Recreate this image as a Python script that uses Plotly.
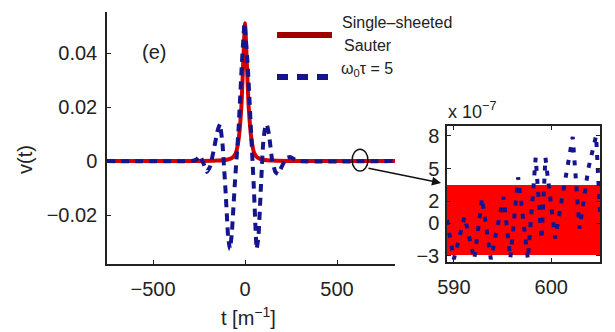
import plotly.graph_objects as go

# ---- data ----
t_red = [-750, -300, -150, -100, -70, -50, -35, -20, -10, 0, 10, 20, 35, 50, 70, 100, 150, 300, 815]
v_red = [0, 0, 0.0002, 0.0005, 0.0012, 0.003, 0.008, 0.02, 0.036, 0.051, 0.036, 0.02, 0.008, 0.003, 0.0012, 0.0005, 0.0002, 0, 0]

t_blue = [-750, -290, -265, -245, -225, -207, -190, -170, -150, -136, -122, -105, -92, -82, -72, -55, -35, -18, -3,
          15, 32, 48, 63, 73, 86, 98, 108, 118, 130, 148, 165, 180, 200, 225, 245, 265, 290, 815]
v_blue = [0, 0, 0.0005, 0.002, -0.001, -0.004, -0.002, 0.004, 0.011, 0.0137, 0.006, -0.012, -0.028, -0.0326, -0.027, -0.008, 0.012, 0.035, 0.051,
          0.035, 0.012, -0.010, -0.0326, -0.028, -0.010, 0.006, 0.012, 0.0137, 0.010, 0.0, -0.004, -0.0048, -0.002, 0.0012, 0.0015, 0.0008, 0, 0]

# inset (units of 1e-7)
inset_red_x = [589.3, 605.0, 605.0, 589.3, 589.3]
inset_red_y = [-2.9, -2.9, 3.5, 3.5, -2.9]
inset_blue_x = [589.3, 590.0, 591.1, 592.1, 592.9, 593.8, 595.1, 595.8, 596.6, 597.6, 598.4, 599.0, 599.4, 600.4,
                601.3, 602.2, 602.9, 603.8, 604.6, 605.0]
inset_blue_y = [0.3, -3.3, 0.6, -3.3, 2.3, -3.3, 2.4, -3.2, 4.2, -3.3, 6.0, -1.5, 6.0, -1.4,
                3.3, 7.9, -0.5, 5.0, 8.0, 1.0]

main_yticks = [-0.02, 0, 0.02, 0.04]
main_yticktext = ["\u22120.02", "0", "0.02", "0.04"]
main_xticks = [-500, 0, 500]
main_xticktext = ["\u2212500", "0", "500"]
inset_yticks = [-3, 0, 2, 5, 8]
inset_yticktext = ["\u22123", "0", "2", "5", "8"]
inset_xticks = [590, 600]

RED = "#d40000"
BLUE = "#14148c"
FONT = "Liberation Sans, Arial, sans-serif"

fig = go.Figure()
fig.add_trace(go.Scatter(x=t_red, y=v_red, mode="lines", line=dict(color=RED, width=4, shape="spline", smoothing=0.5),
                         xaxis="x", yaxis="y", showlegend=False))
fig.add_trace(go.Scatter(x=t_blue, y=v_blue, mode="lines", line=dict(color=BLUE, width=4, dash="8px,6px", shape="spline", smoothing=0.3),
                         xaxis="x", yaxis="y", showlegend=False))
fig.add_trace(go.Scatter(x=inset_red_x, y=inset_red_y, mode="lines", fill="toself", fillcolor="#ff0000",
                         line=dict(color="#ff0000", width=0), xaxis="x2", yaxis="y2", showlegend=False))
fig.add_trace(go.Scatter(x=inset_blue_x, y=inset_blue_y, mode="lines", line=dict(color=BLUE, width=4, dash="5px,8px"),
                         xaxis="x2", yaxis="y2", showlegend=False))

W, H = 615, 332
def px(x): return x / W
def py(y): return 1 - y / H

common = dict(showgrid=False, zeroline=False, showline=True, linecolor="#222", linewidth=1.5,
              ticks="inside", ticklen=4, tickcolor="#222", automargin=False)

fig.update_layout(
    width=W, height=H, margin=dict(l=0, r=0, t=0, b=0, autoexpand=False),
    paper_bgcolor="white", plot_bgcolor="rgba(0,0,0,0)",
    font=dict(family=FONT, size=20, color="#222"),
    xaxis=dict(domain=[px(107), px(395)], range=[-750, 815], tickvals=main_xticks, ticktext=main_xticktext,
               anchor="y", ticklabelstandoff=6, **common),
    yaxis=dict(domain=[py(264), py(12)], range=[-0.0381, 0.0552], tickvals=main_yticks, ticktext=main_yticktext,
               anchor="x", ticklabelstandoff=4, **common),
    xaxis2=dict(domain=[px(447), px(600)], range=[589.3, 605.0], tickvals=inset_xticks,
                mirror="ticks", anchor="y2", ticklabelstandoff=6, **common),
    yaxis2=dict(domain=[py(262), py(126)], range=[-3.55, 8.9], tickvals=inset_yticks, ticktext=inset_yticktext,
                mirror="ticks", anchor="x2", ticklabelstandoff=2, **common),
)

# legend drawn manually
fig.add_shape(type="line", xref="paper", yref="paper", x0=px(277), x1=px(332), y0=py(35), y1=py(35),
              line=dict(color="#a00000", width=6))
fig.add_shape(type="line", xref="paper", yref="paper", x0=px(277), x1=px(332), y0=py(77), y1=py(77),
              line=dict(color=BLUE, width=6, dash="11px,9px"))
fig.add_annotation(xref="paper", yref="paper", x=px(340), y=py(23), text="Single\u2013sheeted", showarrow=False,
                   xanchor="left", yanchor="middle", font=dict(size=16))
fig.add_annotation(xref="paper", yref="paper", x=px(342), y=py(45), text="Sauter", showarrow=False,
                   xanchor="left", yanchor="middle", font=dict(size=16))
fig.add_annotation(xref="paper", yref="paper", x=px(339), y=py(70), text="\u03c9<sub>0</sub>\u03c4 = 5", showarrow=False,
                   xanchor="left", yanchor="middle", font=dict(size=16))

# labels
fig.add_annotation(xref="paper", yref="paper", x=px(154), y=py(52), text="(e)", showarrow=False,
                   xanchor="center", yanchor="middle", font=dict(size=20))
fig.add_annotation(xref="paper", yref="paper", x=px(25), y=py(160), text="v(t)", showarrow=False, textangle=-90,
                   xanchor="center", yanchor="middle", font=dict(size=20))
fig.add_annotation(xref="paper", yref="paper", x=px(248), y=py(316), text="t [m<sup>\u22121</sup>]", showarrow=False,
                   xanchor="center", yanchor="middle", font=dict(size=20))
fig.add_annotation(xref="paper", yref="paper", x=px(446), y=py(110), text="x 10<sup>\u22127</sup>", showarrow=False,
                   xanchor="left", yanchor="middle", font=dict(size=18))

# zoom ellipse and arrow
fig.add_shape(type="circle", xref="x", yref="y", x0=582, x1=668, y0=-0.0037, y1=0.0044,
              line=dict(color="#111", width=1.5))
fig.add_annotation(xref="paper", yref="paper", x=px(441), y=py(183), ax=-74, ay=-15, text="",
                   showarrow=True, arrowhead=2, arrowsize=1.2, arrowwidth=1.5, arrowcolor="#111")

fig.write_html("out.html")
